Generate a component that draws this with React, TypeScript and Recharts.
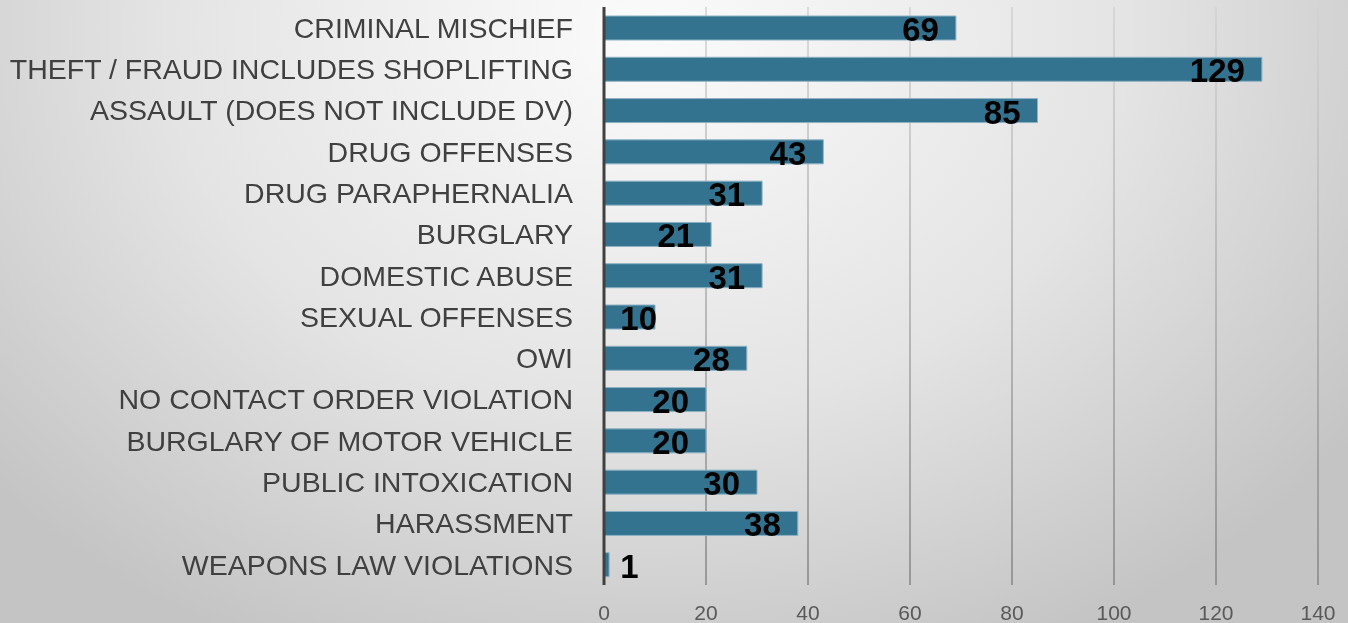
import React from 'react';
import { BarChart, Bar, XAxis, YAxis, CartesianGrid, LabelList } from 'recharts';

const categories = [
  'CRIMINAL MISCHIEF',
  'THEFT / FRAUD INCLUDES SHOPLIFTING',
  'ASSAULT (DOES NOT INCLUDE DV)',
  'DRUG OFFENSES',
  'DRUG PARAPHERNALIA',
  'BURGLARY',
  'DOMESTIC ABUSE',
  'SEXUAL OFFENSES',
  'OWI',
  'NO CONTACT ORDER VIOLATION',
  'BURGLARY OF MOTOR VEHICLE',
  'PUBLIC INTOXICATION',
  'HARASSMENT',
  'WEAPONS LAW VIOLATIONS',
];
const counts = [69, 129, 85, 43, 31, 21, 31, 10, 28, 20, 20, 30, 38, 1];
const xTicks = [0, 20, 40, 60, 80, 100, 120, 140];

const data = categories.map((name, i) => ({ name, value: counts[i] }));

const CategoryTick = (props: any) => {
  const { x, y, payload } = props;
  return (
    <text
      x={x - 23}
      y={y}
      dy="0.36em"
      textAnchor="end"
      fill="#404040"
      fontSize={28.5}
      fontFamily="'Liberation Sans', Arial, sans-serif"
    >
      {payload.value}
    </text>
  );
};

const ValueTick = (props: any) => {
  const { x, y, payload } = props;
  return (
    <text
      x={x}
      y={y + 27}
      textAnchor="middle"
      fill="#595959"
      fontSize={21}
      fontFamily="'Liberation Sans', Arial, sans-serif"
    >
      {payload.value}
    </text>
  );
};

const ValueLabel = (props: any) => {
  const { x, y, width, height, value } = props;
  const textW = String(value).length * 18.5;
  const tx = Math.max(x + width - 17, x + 16 + textW);
  return (
    <text
      x={tx}
      y={y + height / 2 + 13}
      textAnchor="end"
      fill="#000"
      fontSize={33}
      fontWeight="bold"
      fontFamily="'Liberation Sans', Arial, sans-serif"
    >
      {value}
    </text>
  );
};

export default function App() {
  return (
    <div
      style={{
        position: 'fixed',
        left: 0,
        top: 0,
        width: 1348,
        height: 623,
        background:
          'radial-gradient(ellipse 65% 110% at 48% 5%, #fbfbfb 0%, #e4e4e4 55%, #c4c4c4 100%)',
      }}
    >
      <BarChart
        width={1348}
        height={623}
        data={data}
        layout="vertical"
        margin={{ top: 7, right: 30, left: 0, bottom: 0 }}
        barCategoryGap={0}
      >
        <defs>
          <linearGradient id="gridFade" gradientUnits="userSpaceOnUse" x1="0" y1="7" x2="0" y2="585">
            <stop offset="0%" stopColor="#d2d2d2" />
            <stop offset="100%" stopColor="#858585" />
          </linearGradient>
        </defs>
        <CartesianGrid horizontal={false} stroke="url(#gridFade)" strokeWidth={1.5} />
        <XAxis
          type="number"
          domain={[0, 140]}
          ticks={xTicks}
          axisLine={false}
          tickLine={false}
          height={38}
          tick={<ValueTick />}
        />
        <YAxis
          type="category"
          dataKey="name"
          width={604}
          axisLine={{ stroke: '#404040', strokeWidth: 3 }}
          tickLine={false}
          tick={<CategoryTick />}
          interval={0}
        />
        <Bar
          dataKey="value"
          fill="#33738f"
          stroke="#8db2c3"
          strokeWidth={1}
          barSize={24}
          isAnimationActive={false}
        >
          <LabelList dataKey="value" content={<ValueLabel />} />
        </Bar>
      </BarChart>
    </div>
  );
}
